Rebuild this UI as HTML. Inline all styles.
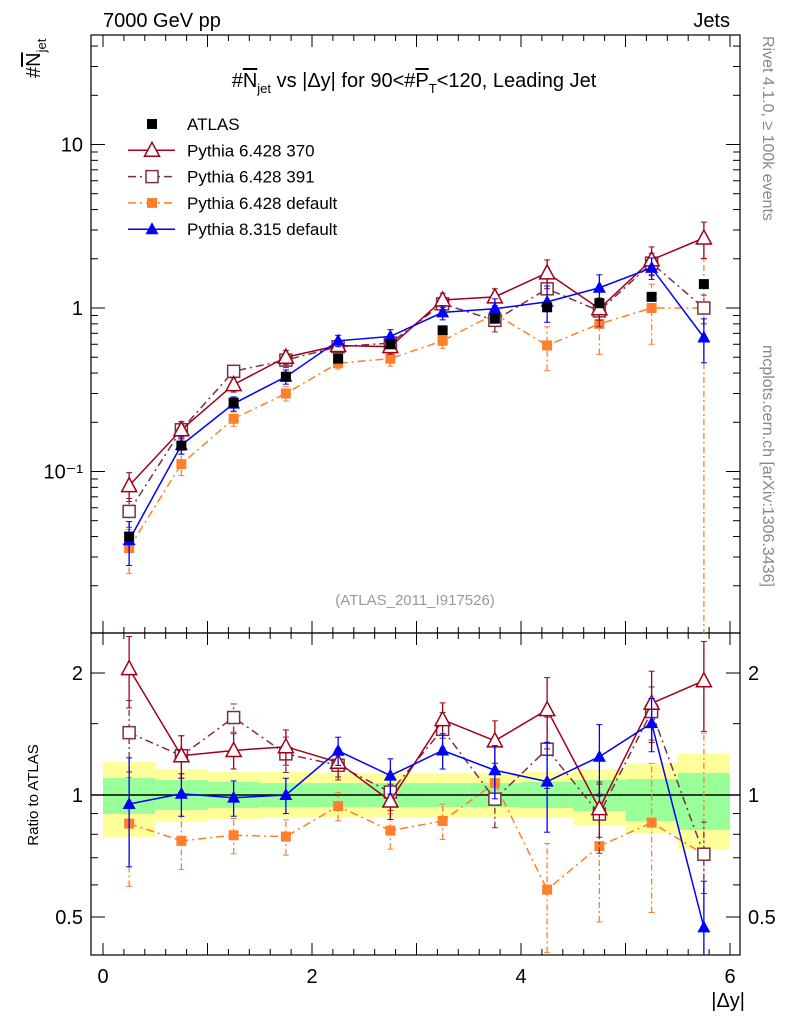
<!DOCTYPE html>
<html><head><meta charset="utf-8"><style>
html,body{margin:0;padding:0;background:#fff;width:786px;height:1024px;overflow:hidden;}
svg{display:block;font-family:"Liberation Sans",sans-serif;}
</style></head><body>
<svg id="c" width="786" height="1024"></svg>
<script>
const categories=[0.25,0.75,1.25,1.75,2.25,2.75,3.25,3.75,4.25,4.75,5.25,5.75];
const atlas=[0.040,0.144,0.264,0.38,0.49,0.60,0.73,0.86,1.01,1.07,1.17,1.40];
const py370=[0.082,0.18,0.34,0.50,0.59,0.58,1.12,1.17,1.64,0.99,1.97,2.68];
const py391=[0.057,0.18,0.41,0.48,0.58,0.61,1.06,0.84,1.31,0.96,1.88,1.0];
const py6def=[0.034,0.111,0.21,0.30,0.46,0.49,0.63,0.92,0.59,0.80,1.0,1.0];
const py8=[0.038,0.145,0.26,0.38,0.63,0.67,0.94,0.99,1.09,1.33,1.76,0.66];
const err370=[0.2,0.12,0.1,0.1,0.08,0.1,0.1,0.12,0.2,0.15,0.2,0.25];
const err391=[0.2,0.12,0.08,0.1,0.08,0.1,0.1,0.15,0.2,0.2,0.15,0.2];
const err6def=[0.3,0.15,0.1,0.1,0.08,0.1,0.1,0.12,0.3,0.35,0.4,0.99];
const err8=[0.3,0.12,0.1,0.1,0.08,0.1,0.1,0.15,0.25,0.2,0.15,0.3];
const yelHi=[1.206,1.159,1.139,1.139,1.133,1.133,1.133,1.133,1.139,1.159,1.199,1.262];
const yelLo=[0.788,0.858,0.873,0.877,0.882,0.882,0.882,0.882,0.877,0.843,0.806,0.736];
const grnHi=[1.101,1.089,1.077,1.070,1.070,1.070,1.070,1.070,1.077,1.089,1.095,1.133];
const grnLo=[0.898,0.918,0.929,0.934,0.934,0.934,0.934,0.934,0.929,0.913,0.863,0.820];
const xTicks=[0,2,4,6];
const yTicks=[[0.1,"10\u207B\u00B9"],[1,"1"],[10,"10"]];
const rTicks=[[0.5,"0.5"],[1,"1"],[2,"2"]];

const L=91,R=740,T=35,M=633,B=955;
const X=v=>103+v*104.5;
const Y=v=>308-Math.log10(v)*163.5;
const RY=v=>795-Math.log2(v)*122;
const svg=document.getElementById('c');
const NS="http://www.w3.org/2000/svg";
function el(tag,attrs,parent){const e=document.createElementNS(NS,tag);for(const k in attrs)e.setAttribute(k,attrs[k]);(parent||svg).appendChild(e);return e;}
function txt(s,x,y,size,attrs){const e=el('text',Object.assign({x:x,y:y,'font-size':size},attrs||{}));e.textContent=s;return e;}
const clipT=el('clipPath',{id:'ct'});el('rect',{x:L,y:T,width:R-L,height:M-T},clipT);
const clipB=el('clipPath',{id:'cb'});el('rect',{x:L,y:M,width:R-L,height:B-M},clipB);

const bandG=el('g',{'clip-path':'url(#cb)'});


categories.forEach((c,i)=>{
  const r1=el('rect',{x:X(c-0.25),y:RY(yelHi[i]),width:104.5/2,height:RY(yelLo[i])-RY(yelHi[i]),fill:'#ffff99'},bandG);
  
  
  const r2=el('rect',{x:X(c-0.25),y:RY(grnHi[i]),width:104.5/2,height:RY(grnLo[i])-RY(grnHi[i]),fill:'#99ff99'},bandG);
  
  
});
el('line',{x1:L,x2:R,y1:RY(1),y2:RY(1),stroke:'#000','stroke-width':1.5});

el('rect',{x:L,y:T,width:R-L,height:M-T,fill:'none',stroke:'#000','stroke-width':1.2});
el('rect',{x:L,y:M,width:R-L,height:B-M,fill:'none',stroke:'#000','stroke-width':1.2});

for(let v=0;v<=6.01;v+=0.2){const big=Math.abs(v-Math.round(v))<0.01;const l=big?12:6;const x=X(v);
  [[M,-1],[B,-1],[T,1],[M,1]].forEach(([y,d])=>el('line',{x1:x,x2:x,y1:y,y2:y+d*l,stroke:'#000'}));}
xTicks.forEach(v=>{const t=txt(String(v),X(v),983,20,{'text-anchor':'middle'});});
for(let d=-2;d<=1;d++)for(let m=1;m<=9;m++){const v=m*Math.pow(10,d);const y=Y(v);if(y<T||y>M)continue;const l=m==1?14:7;
  el('line',{x1:L,x2:L+l,y1:y,y2:y,stroke:'#000'});el('line',{x1:R,x2:R-l,y1:y,y2:y,stroke:'#000'});}
yTicks.forEach(([v,s])=>{const t=txt(s,83,Y(v)+7,20,{'text-anchor':'end'});});
[0.5,0.6,0.7,0.8,0.9,1,1.5,2].forEach(v=>{const y=RY(v);const l=[0.5,1,2].includes(v)?14:7;
  el('line',{x1:L,x2:L+l,y1:y,y2:y,stroke:'#000'});el('line',{x1:R,x2:R-l,y1:y,y2:y,stroke:'#000'});});
rTicks.forEach(([v,s])=>{const a=txt(s,83,RY(v)+7,20,{'text-anchor':'end'});
  const b=txt(s,748,RY(v)+7,20);});

function marker(g,type,color,x,y){
  if(type=='sq')el('rect',{x:x-5,y:y-5,width:10,height:10,fill:color},g);
  else if(type=='osq')el('rect',{x:x-6,y:y-6,width:12,height:12,fill:'#fff',stroke:color,'stroke-width':1.5},g);
  else if(type=='otri')el('polygon',{points:`${x},${y-8} ${x-7.5},${y+6} ${x+7.5},${y+6}`,fill:'#fff',stroke:color,'stroke-width':1.5},g);
  else if(type=='tri')el('polygon',{points:`${x},${y-7} ${x-6.5},${y+5} ${x+6.5},${y+5}`,fill:color},g);
}
const series=[
 {n:'pythia-6428-370',v:py370,e:err370,c:'#a00018',m:'otri',d:''},
 {n:'pythia-6428-391',v:py391,e:err391,c:'#7a3040',m:'osq',d:'8,4,2,4'},
 {n:'pythia-6428-default',v:py6def,e:err6def,c:'#ff7f2a',m:'sq',d:'8,4,2,4'},
 {n:'pythia-8315-default',v:py8,e:err8,c:'#0000ff',m:'tri',d:''}
];
function drawSeries(s,vals,yf,clip,suffix){
  const g=el('g',{'clip-path':clip});
  
  
  el('polyline',{points:categories.map((c,i)=>X(c)+','+yf(vals[i])).join(' '),fill:'none',stroke:s.c,'stroke-width':1.5,'stroke-dasharray':s.d},g);
  categories.forEach((c,i)=>{const x=X(c);const lo=Math.max(vals[i]*(1-s.e[i]),1e-4);const hi=vals[i]*(1+s.e[i]);
    el('line',{x1:x,x2:x,y1:yf(lo),y2:yf(hi),stroke:s.c,'stroke-width':1.3,'stroke-dasharray':s.d?'6,3,2,3':''},g);
    el('line',{x1:x-3,x2:x+3,y1:yf(lo),y2:yf(lo),stroke:s.c},g);el('line',{x1:x-3,x2:x+3,y1:yf(hi),y2:yf(hi),stroke:s.c},g);});
  categories.forEach((c,i)=>marker(g,s.m,s.c,X(c),yf(vals[i])));
}
const drawOrder=[series[2],series[1],series[0],series[3]];
drawOrder.forEach(s=>drawSeries(s,s.v,Y,'url(#ct)','-main'));
const ag=el('g',{});
categories.forEach((c,i)=>marker(ag,'sq','#000',X(c),Y(atlas[i])));
drawOrder.forEach(s=>drawSeries(s,s.v.map((v,i)=>v/atlas[i]),RY,'url(#cb)','-ratio'));

const leg=[['sq','#000','ATLAS',''],['otri','#a00018','Pythia 6.428 370',''],['osq','#7a3040','Pythia 6.428 391','8,4,2,4'],['sq','#ff7f2a','Pythia 6.428 default','8,4,2,4'],['tri','#0000ff','Pythia 8.315 default','']];
leg.forEach(([m,c,s,d],i)=>{const y=124+i*26.3;const g=el('g',{});
  
  
  if(i>0)el('line',{x1:128,x2:175,y1:y,y2:y,stroke:c,'stroke-width':1.5,'stroke-dasharray':d},g);
  marker(g,m,c,152,y);const t=txt(s,187,y+6,17,{});g.appendChild(t);});

let t;
t=txt('7000 GeV pp',103,27,20);
t=txt('Jets',730,27,20,{'text-anchor':'end'});
t=el('text',{x:414,y:87,'font-size':20,'text-anchor':'middle'});t.innerHTML='#<tspan text-decoration="overline">N</tspan><tspan font-size="13" dy="6">jet</tspan><tspan dy="-6"> vs |\u0394y| for 90&lt;#</tspan><tspan text-decoration="overline">P</tspan><tspan font-size="13" dy="6">T</tspan><tspan dy="-6">&lt;120, Leading Jet</tspan>';

t=el('text',{transform:'translate(40,78) rotate(-90)','font-size':20});t.innerHTML='#<tspan text-decoration="overline">N</tspan><tspan font-size="13" dy="6">jet</tspan>';

t=txt('Ratio to ATLAS',0,0,15,{transform:'translate(38,795) rotate(-90)','text-anchor':'middle'});
t=txt('|\u0394y|',745,1007,20,{'text-anchor':'end'});
t=txt('(ATLAS_2011_I917526)',415,605,15,{fill:'#999','text-anchor':'middle'});
t=txt('Rivet 4.1.0, \u2265 100k events',0,0,16,{fill:'#888',transform:'translate(763,36) rotate(90)'});
t=txt('mcplots.cern.ch [arXiv:1306.3436]',0,0,16,{fill:'#888',transform:'translate(763,345) rotate(90)'});
</script>
</body></html>
